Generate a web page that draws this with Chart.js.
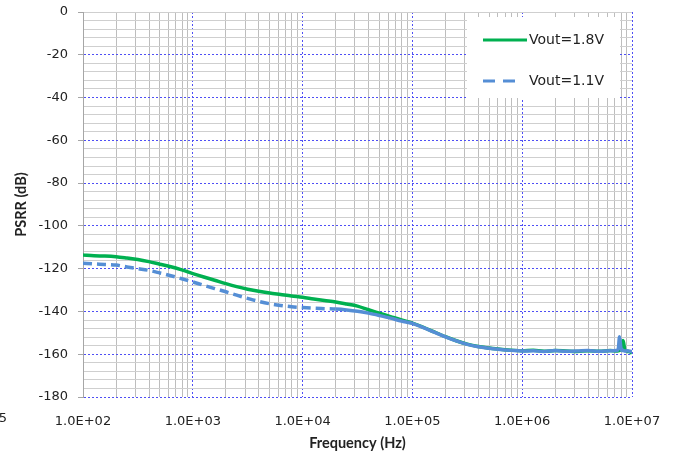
<!DOCTYPE html>
<html>
<head>
<meta charset="utf-8">
<script src="https://cdn.jsdelivr.net/npm/chart.js@4.4.1/dist/chart.umd.min.js"></script>
<style>
  html, body { margin: 0; padding: 0; background: #fff; }
  #grafico { display: block; }
</style>
</head>
<body>
<canvas id="grafico" width="674" height="457"></canvas>
<script>
// Frequências medidas (Hz)
const frequencias = [
  100, 126, 158, 200, 251, 316, 398, 501, 631, 794,
  1000, 1260, 1580, 2000, 2510, 3160, 3980, 5010, 6310, 7940,
  10000, 12600, 15800, 20000, 25100, 31600, 39800, 50100, 63100, 79400,
  100000, 126000, 158000, 200000, 251000, 316000, 398000, 501000, 631000, 794000,
  1000000, 1260000, 1580000, 2000000, 2510000, 3160000, 3980000, 5010000, 6310000,
  7200000, 7500000, 7700000, 7900000, 8100000, 8300000, 8600000, 9000000, 9500000, 10000000
];

// PSRR (dB) - Vout=1.8V
const psrr18 = [
  -113.6, -114.0, -114.1, -114.4, -115.0, -115.7, -116.7, -117.9, -119.1, -120.6,
  -122.3, -123.9, -125.4, -127.0, -128.4, -129.6, -130.6, -131.4, -132.1, -132.8,
  -133.4, -134.2, -134.9, -135.6, -136.5, -137.5, -139.2, -140.8, -142.4, -144.0,
  -145.5, -147.4, -149.6, -151.8, -153.7, -155.3, -156.4, -157.1, -157.7, -158.1,
  -158.4, -158.2, -158.6, -158.3, -158.5, -158.7, -158.4, -158.6, -158.3,
  -158.5, -158.4, -158.2, -157.8, -155.5, -153.6, -157.9, -158.6, -158.8, -159.6
];

// PSRR (dB) - Vout=1.1V
const psrr11 = [
  -117.5, -117.8, -118.0, -118.3, -119.2, -120.0, -120.8, -122.0, -123.3, -124.7,
  -126.2, -127.8, -129.3, -130.8, -132.4, -133.9, -135.3, -136.4, -137.2, -137.8,
  -138.2, -138.5, -138.7, -138.9, -139.3, -139.9, -140.8, -141.9, -143.1, -144.5,
  -145.6, -147.6, -149.7, -151.9, -153.8, -155.4, -156.5, -157.2, -157.8, -158.2,
  -158.5, -158.4, -158.7, -158.3, -158.6, -158.5, -158.3, -158.6, -158.4,
  -158.3, -157.5, -151.8, -156.5, -158.3, -158.2, -158.5, -158.4, -158.6, -158.8
];

// Rótulos dos eixos
const decadas = [100, 1000, 10000, 100000, 1000000, 10000000];
const rotulosX = ['1.0E+02', '1.0E+03', '1.0E+04', '1.0E+05', '1.0E+06', '1.0E+07'];
const rotulosY = [0, -20, -40, -60, -80, -100, -120, -140, -160, -180];

// Linhas de grade secundárias: 2..9 em cada década, 4 dB no eixo Y
const ticksX = [];
decadas.forEach(function(d, i) {
    if (i === decadas.length - 1) { ticksX.push(d); return; }
    for (let m = 1; m <= 9; m++) ticksX.push(m * d);
});
const ticksY = [];
for (let v = -180; v <= 0; v += 4) ticksY.push(v);

const azulGrade = '#4f4ff5';
const cinzaEixo = '#a6a6a6';

function ehDecada(v) {
    return decadas.indexOf(v) >= 0;
}

// Legenda desenhada dentro da área do gráfico
const legendaPlugin = {
    id: 'legendaInterna',
    afterDatasetsDraw(chart) {
        const ctx = chart.ctx;
        ctx.save();
        ctx.fillStyle = '#fff';
        ctx.fillRect(467, 17, 153, 81);

        ctx.lineWidth = 3;
        ctx.strokeStyle = '#00b050';
        ctx.beginPath();
        ctx.moveTo(483, 40);
        ctx.lineTo(527, 40);
        ctx.stroke();

        ctx.strokeStyle = '#558ed5';
        ctx.setLineDash([12, 8]);
        ctx.beginPath();
        ctx.moveTo(483, 81);
        ctx.lineTo(516, 81);
        ctx.stroke();
        ctx.setLineDash([]);

        ctx.fillStyle = '#222';
        ctx.font = '14px "DejaVu Sans"';
        ctx.textBaseline = 'middle';
        ctx.textAlign = 'left';
        ctx.fillText('Vout=1.8V', 529, 40);
        ctx.fillText('Vout=1.1V', 529, 81);

        // resto de rótulo cortado na borda esquerda
        ctx.font = '13px "DejaVu Sans"';
        ctx.textAlign = 'right';
        ctx.fillText('5', 7, 419);
        ctx.restore();
    }
};

const ctx = document.getElementById('grafico').getContext('2d');
window.grafico = new Chart(ctx, {
    type: 'line',
    data: {
        datasets: [{
            label: 'Vout=1.8V',
            data: frequencias.map((f, i) => ({ x: f, y: psrr18[i] })),
            borderColor: '#00b050',
            borderWidth: 3.5,
            pointRadius: 0,
            cubicInterpolationMode: 'monotone',
            order: 1
        }, {
            label: 'Vout=1.1V',
            data: frequencias.map((f, i) => ({ x: f, y: psrr11[i] })),
            borderColor: '#558ed5',
            borderWidth: 3.5,
            pointRadius: 0,
            cubicInterpolationMode: 'monotone',
            borderDash: [],
            segment: {
                borderDash: c => c.p0.parsed.x < 20000 ? [9, 5] : []
            },
            order: 0
        }]
    },
    options: {
        responsive: false,
        animation: false,
        devicePixelRatio: 1,
        layout: { padding: { top: 12, right: 42, left: 0, bottom: 0 } },
        plugins: {
            legend: { display: false },
            tooltip: { enabled: false }
        },
        scales: {
            x: {
                type: 'logarithmic',
                min: 100,
                max: 10000000,
                afterBuildTicks: s => { s.ticks = ticksX.map(v => ({ value: v })); },
                afterFit: s => { s.height = 60; s.paddingLeft = 0; s.paddingRight = 0; },
                ticks: {
                    autoSkip: false,
                    maxRotation: 0,
                    minRotation: 0,
                    padding: 17,
                    color: '#222',
                    font: { family: 'DejaVu Sans', size: 13 },
                    callback: function(v) {
                        const i = decadas.indexOf(v);
                        return i >= 0 ? rotulosX[i] : '';
                    }
                },
                grid: {
                    drawTicks: false,
                    lineWidth: 1,
                    color: c => c.tick.value === 100 ? cinzaEixo : (ehDecada(c.tick.value) ? azulGrade : '#bdbdbd')
                },
                border: {
                    display: false,
                    dash: c => (c.tick && c.tick.value !== 100 && ehDecada(c.tick.value)) ? [2, 2] : []
                },
                title: {
                    display: true,
                    text: 'Frequency (Hz)',
                    color: '#222',
                    font: { family: 'Lato', size: 14.5, weight: 'bold' },
                    padding: { top: 0, bottom: 5 }
                }
            },
            y: {
                min: -180,
                max: 0,
                afterBuildTicks: s => { s.ticks = ticksY.map(v => ({ value: v })); },
                afterFit: s => { s.width = 83; s.paddingTop = 0; s.paddingBottom = 0; },
                ticks: {
                    autoSkip: false,
                    padding: 10,
                    color: '#222',
                    font: { family: 'DejaVu Sans', size: 13 },
                    callback: v => rotulosY.indexOf(v) >= 0 ? String(v) : ''
                },
                grid: {
                    lineWidth: 1,
                    tickLength: 5,
                    color: c => (c.tick.value % 20 === 0 && c.tick.value !== 0) ? azulGrade : '#cfcfcf',
                    tickColor: c => c.tick.value % 20 === 0 ? cinzaEixo : 'rgba(0,0,0,0)'
                },
                border: {
                    display: true,
                    color: cinzaEixo,
                    dash: c => (c.tick && c.tick.value % 20 === 0 && c.tick.value !== 0) ? [2, 2] : []
                },
                title: {
                    display: true,
                    text: 'PSRR (dB)',
                    color: '#222',
                    font: { family: 'Lato', size: 14.5, weight: 'bold' },
                    padding: { top: 13, bottom: 0 }
                }
            }
        }
    },
    plugins: [legendaPlugin]
});
</script>
</body>
</html>
